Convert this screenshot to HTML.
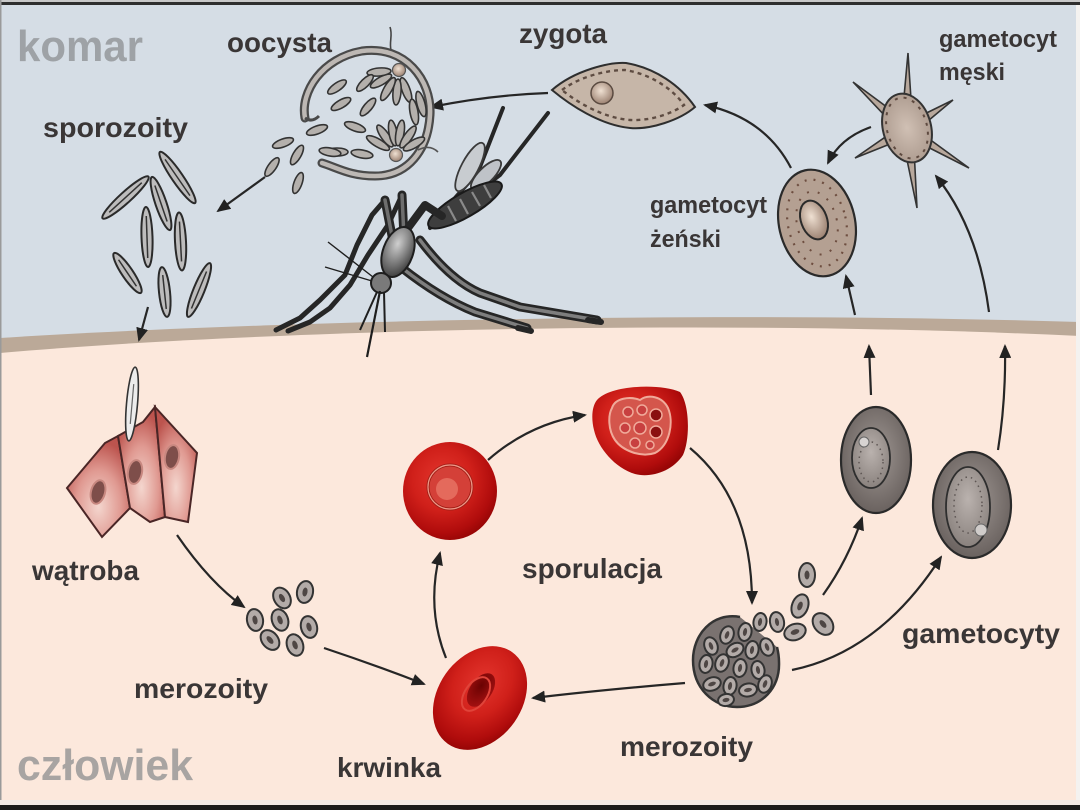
<!DOCTYPE html>
<html><head><meta charset="utf-8"><style>
html,body{margin:0;padding:0;background:#fff}
svg{display:block}
.t{font-family:"Liberation Sans",Arial,sans-serif;font-weight:bold;fill:#3a3636}
.big{font-family:"Liberation Sans",Arial,sans-serif;font-weight:bold}
.ar{fill:none;stroke:#262626;stroke-width:2.2;marker-end:url(#ah)}
.sp{fill:#bdbcbc;stroke:#2a2a2a;stroke-width:2}
.sps{fill:#b4b0ac;stroke:#333;stroke-width:1.6}
.mz{fill:#b3aba8;stroke:#333;stroke-width:2}
.mzc{fill:#4e4644}
.leg{fill:none;stroke:#262626;stroke-linejoin:round;stroke-linecap:round}
</style></head><body>
<svg width="1080" height="810" viewBox="0 0 1080 810" xmlns="http://www.w3.org/2000/svg">
<defs>
 <marker id="ah" markerWidth="14" markerHeight="12" refX="12" refY="6" orient="auto" markerUnits="userSpaceOnUse">
  <path d="M0,0 L14,6 L0,12 z" fill="#222"/>
 </marker>
 <radialGradient id="red" cx="42%" cy="38%" r="64%">
  <stop offset="0" stop-color="#e4362e"/><stop offset="0.5" stop-color="#d0201a"/><stop offset="0.85" stop-color="#b00c0c"/><stop offset="1" stop-color="#980606"/>
 </radialGradient>
 <radialGradient id="dimple" cx="40%" cy="40%" r="60%">
  <stop offset="0" stop-color="#6a0202"/><stop offset="1" stop-color="#a01010"/>
 </radialGradient>
 <radialGradient id="liver" cx="50%" cy="70%" r="65%">
  <stop offset="0" stop-color="#f4d6ce"/><stop offset="0.55" stop-color="#e09a92"/><stop offset="1" stop-color="#bc544e"/>
 </radialGradient>
 <radialGradient id="gcell" cx="50%" cy="45%" r="55%">
  <stop offset="0" stop-color="#a09894"/><stop offset="1" stop-color="#6a625f"/>
 </radialGradient>
 <radialGradient id="ginner" cx="50%" cy="40%" r="60%">
  <stop offset="0" stop-color="#bab2ae"/><stop offset="1" stop-color="#8a827e"/>
 </radialGradient>
 <radialGradient id="nuc" cx="45%" cy="40%" r="60%">
  <stop offset="0" stop-color="#efe0d2"/><stop offset="1" stop-color="#9c8272"/>
 </radialGradient>
 <radialGradient id="tan" cx="50%" cy="50%" r="60%">
  <stop offset="0" stop-color="#d0c0b4"/><stop offset="1" stop-color="#a8968a"/>
 </radialGradient>
 <radialGradient id="thx" cx="40%" cy="35%" r="65%">
  <stop offset="0" stop-color="#cfcfcf"/><stop offset="1" stop-color="#454545"/>
 </radialGradient>
</defs>

<!-- background -->
<rect x="0" y="0" width="1080" height="810" fill="#d5dde5"/>
<path d="M0,338 C250,322 700,310 1080,322 L1080,810 L0,810 Z" fill="#bba998"/>
<path d="M0,353 C250,331 700,318 1080,336 L1080,810 L0,810 Z" fill="#fce8dc"/>

<!-- frame -->
<rect x="0" y="0" width="1080" height="2" fill="#c8c8c8"/>
<rect x="0" y="2" width="1080" height="3" fill="#2e2e2e"/>
<rect x="0" y="0" width="1.5" height="810" fill="#9a9a9a"/>
<rect x="1076" y="5" width="4" height="800" fill="#f4f2f0"/>
<rect x="0" y="800" width="1080" height="5" fill="#f3ebe6"/>
<rect x="0" y="805" width="1080" height="5" fill="#1c1c1c"/>

<!-- big labels -->
<text class="big" x="17" y="61" font-size="44" fill="#9ea2a6" textLength="126" lengthAdjust="spacingAndGlyphs">komar</text>
<text class="big" x="17" y="780" font-size="44" fill="#a8a4a2" textLength="176" lengthAdjust="spacingAndGlyphs">człowiek</text>

<!-- labels -->
<text class="t" x="227" y="52" font-size="28" textLength="105" lengthAdjust="spacingAndGlyphs">oocysta</text>
<text class="t" x="519" y="43" font-size="28" textLength="88" lengthAdjust="spacingAndGlyphs">zygota</text>
<text class="t" x="43" y="137" font-size="28" textLength="145" lengthAdjust="spacingAndGlyphs">sporozoity</text>
<text class="t" x="939" y="47" font-size="24" textLength="118" lengthAdjust="spacingAndGlyphs">gametocyt</text>
<text class="t" x="939" y="80" font-size="24" textLength="66" lengthAdjust="spacingAndGlyphs">męski</text>
<text class="t" x="650" y="213" font-size="24" textLength="117" lengthAdjust="spacingAndGlyphs">gametocyt</text>
<text class="t" x="650" y="247" font-size="24" textLength="71" lengthAdjust="spacingAndGlyphs">żeński</text>
<text class="t" x="32" y="580" font-size="28" textLength="107" lengthAdjust="spacingAndGlyphs">wątroba</text>
<text class="t" x="134" y="698" font-size="28" textLength="134" lengthAdjust="spacingAndGlyphs">merozoity</text>
<text class="t" x="337" y="777" font-size="28" textLength="104" lengthAdjust="spacingAndGlyphs">krwinka</text>
<text class="t" x="522" y="578" font-size="28" textLength="140" lengthAdjust="spacingAndGlyphs">sporulacja</text>
<text class="t" x="620" y="756" font-size="28" textLength="133" lengthAdjust="spacingAndGlyphs">merozoity</text>
<text class="t" x="902" y="643" font-size="28" textLength="158" lengthAdjust="spacingAndGlyphs">gametocyty</text>

<!-- arrows -->
<path class="ar" d="M548,93 Q490,95 431,107"/>
<path class="ar" d="M265,177 L218,211"/>
<path class="ar" d="M148,307 L139,340"/>
<path class="ar" d="M791,168 Q765,118 705,105"/>
<path class="ar" d="M871,127 Q840,138 828,163"/>
<path class="ar" d="M855,315 L846,276"/>
<path class="ar" d="M989,312 Q978,228 936,176"/>
<path class="ar" d="M871,395 L869,346"/>
<path class="ar" d="M998,450 Q1006,400 1005,346"/>
<path class="ar" d="M177,535 Q210,583 244,607"/>
<path class="ar" d="M324,648 Q375,665 424,684"/>
<path class="ar" d="M446,658 Q426,608 440,553"/>
<path class="ar" d="M488,460 Q530,423 585,415"/>
<path class="ar" d="M690,448 Q752,500 752,603"/>
<path class="ar" d="M685,683 Q600,690 533,698"/>
<path class="ar" d="M823,595 Q848,560 862,518"/>
<path class="ar" d="M792,670 Q880,652 941,557"/>

<!-- sporozoite cluster -->
<g transform="translate(125.5,197.5) rotate(-42.3)"><ellipse class="sp" rx="31" ry="5.5"/><line x1="-22" x2="22" stroke="#333" stroke-width="1.5"/></g>
<g transform="translate(177.5,177.5) rotate(55.5)"><ellipse class="sp" rx="31" ry="5.5"/><line x1="-22" x2="22" stroke="#333" stroke-width="1.5"/></g>
<g transform="translate(161,203.5) rotate(71.2)"><ellipse class="sp" rx="28" ry="5.5"/><line x1="-19" x2="19" stroke="#333" stroke-width="1.5"/></g>
<g transform="translate(147,237) rotate(88)"><ellipse class="sp" rx="30" ry="5.5"/><line x1="-21" x2="21" stroke="#333" stroke-width="1.5"/></g>
<g transform="translate(180.5,241.5) rotate(87)"><ellipse class="sp" rx="29" ry="5.5"/><line x1="-20" x2="20" stroke="#333" stroke-width="1.5"/></g>
<g transform="translate(127.5,273) rotate(56)"><ellipse class="sp" rx="24" ry="5.5"/><line x1="-16" x2="16" stroke="#333" stroke-width="1.5"/></g>
<g transform="translate(164.5,292) rotate(84)"><ellipse class="sp" rx="25" ry="5.5"/><line x1="-17" x2="17" stroke="#333" stroke-width="1.5"/></g>
<g transform="translate(199,290) rotate(-67.8)"><ellipse class="sp" rx="29" ry="5.5"/><line x1="-20" x2="20" stroke="#333" stroke-width="1.5"/></g>

<!-- oocyst -->
<path d="M391,50 C389,42 393,35 390,27" fill="none" stroke="#444" stroke-width="1.6"/>
<path d="M305,118 C300,92 322,58 362,51 C405,45 432,80 430,115 C428,150 408,176 375,176 C350,176 338,168 322,163" fill="none" stroke="#4a4a4a" stroke-width="9" stroke-linecap="round"/>
<path d="M305,118 C300,92 322,58 362,51 C405,45 432,80 430,115 C428,150 408,176 375,176 C350,176 338,168 322,163" fill="none" stroke="#bdb8b4" stroke-width="4.5" stroke-linecap="round"/>
<path d="M305,118 Q312,123 319,116" fill="none" stroke="#4a4a4a" stroke-width="3"/>
<path d="M418,150 Q430,144 438,152" fill="none" stroke="#555" stroke-width="1.6"/>
<g class="sps">
 <ellipse cx="406" cy="90" rx="13" ry="4" transform="rotate(70 406 90)"/>
 <ellipse cx="397" cy="92" rx="13" ry="4" transform="rotate(95 397 92)"/>
 <ellipse cx="388" cy="89" rx="13" ry="4" transform="rotate(120 388 89)"/>
 <ellipse cx="381" cy="81" rx="12" ry="4" transform="rotate(150 381 81)"/>
 <ellipse cx="379" cy="72" rx="12" ry="4" transform="rotate(175 379 72)"/>
 <ellipse cx="414" cy="112" rx="13" ry="4" transform="rotate(80 414 112)"/>
 <ellipse cx="421" cy="104" rx="13" ry="4" transform="rotate(75 421 104)"/>
 <ellipse cx="378" cy="143" rx="13" ry="4" transform="rotate(-150 378 143)"/>
 <ellipse cx="385" cy="136" rx="13" ry="4" transform="rotate(-125 385 136)"/>
 <ellipse cx="393" cy="133" rx="13" ry="4" transform="rotate(-100 393 133)"/>
 <ellipse cx="400" cy="133" rx="13" ry="4" transform="rotate(-80 400 133)"/>
 <ellipse cx="408" cy="137" rx="13" ry="4" transform="rotate(-55 408 137)"/>
 <ellipse cx="414" cy="144" rx="12" ry="4" transform="rotate(-30 414 144)"/>
 <ellipse cx="337" cy="87" rx="11" ry="4" transform="rotate(-35 337 87)"/>
 <ellipse cx="341" cy="104" rx="11" ry="4" transform="rotate(-30 341 104)"/>
 <ellipse cx="365" cy="83" rx="11" ry="4" transform="rotate(-45 365 83)"/>
 <ellipse cx="368" cy="107" rx="11" ry="4" transform="rotate(-50 368 107)"/>
 <ellipse cx="355" cy="127" rx="11" ry="4" transform="rotate(20 355 127)"/>
 <ellipse cx="337" cy="152" rx="11" ry="4" transform="rotate(0 337 152)"/>
 <ellipse cx="362" cy="154" rx="11" ry="4" transform="rotate(10 362 154)"/>
 <ellipse cx="317" cy="130" rx="11" ry="4" transform="rotate(-20 317 130)"/>
 <ellipse cx="283" cy="143" rx="11" ry="4" transform="rotate(-20 283 143)"/>
 <ellipse cx="272" cy="167" rx="11" ry="4" transform="rotate(-55 272 167)"/>
 <ellipse cx="297" cy="155" rx="11" ry="4" transform="rotate(-60 297 155)"/>
 <ellipse cx="298" cy="183" rx="11" ry="4" transform="rotate(-70 298 183)"/>
 <ellipse cx="330" cy="152" rx="11" ry="4" transform="rotate(10 330 152)"/>
</g>
<circle cx="399" cy="70" r="6.5" fill="url(#nuc)" stroke="#555" stroke-width="1.2"/>
<circle cx="396" cy="155" r="6.5" fill="url(#nuc)" stroke="#555" stroke-width="1.2"/>

<!-- zygota -->
<path d="M552,90 C575,70 610,62 626,63 C655,68 680,85 695,107 C680,120 650,130 630,128 C600,125 570,105 552,90 Z" fill="#c6b6a8" stroke="#2e2e2e" stroke-width="2"/>
<path d="M562,90 C582,75 610,70 625,70 C650,74 672,88 684,105 C670,115 648,121 630,120 C604,118 578,103 562,90 Z" fill="none" stroke="#5e4c42" stroke-width="2.4" stroke-dasharray="4 4"/>
<circle cx="602" cy="93" r="11" fill="url(#nuc)" stroke="#5a4a40" stroke-width="1.5"/>

<!-- male gametocyte -->
<g fill="#b8a89c" stroke="#333" stroke-width="1.6">
 <polygon points="901,130 908,53 913,130"/>
 <polygon points="911,125 853,82 903,135"/>
 <polygon points="910,136 953,100 904,124"/>
 <polygon points="904,124 855,158 910,136"/>
 <polygon points="904,135 969,168 910,125"/>
 <polygon points="901,131 917,208 913,129"/>
</g>
<ellipse cx="907" cy="128" rx="24" ry="35" transform="rotate(-15 907 128)" fill="url(#tan)" stroke="#333" stroke-width="2"/>
<ellipse cx="907" cy="128" rx="20" ry="31" transform="rotate(-15 907 128)" fill="none" stroke="#5e4a40" stroke-width="2" stroke-dasharray="3 6"/>

<!-- female gametocyte -->
<ellipse cx="817" cy="223" rx="38" ry="54" transform="rotate(-13 817 223)" fill="#b4a092" stroke="#2a2a2a" stroke-width="2.2"/>
<ellipse cx="817" cy="223" rx="29" ry="44" transform="rotate(-13 817 223)" fill="none" stroke="#6e4e40" stroke-width="2.2" stroke-dasharray="2 7"/>
<ellipse cx="817" cy="223" rx="20" ry="32" transform="rotate(-13 817 223)" fill="none" stroke="#6e4e40" stroke-width="2" stroke-dasharray="2 9"/>
<ellipse cx="814" cy="220" rx="13" ry="20" transform="rotate(-20 814 220)" fill="url(#nuc)" stroke="#2a2a2a" stroke-width="2"/>

<!-- mosquito -->
<path class="leg" d="M402,268 Q440,298 475,312 L527,328" stroke-width="9"/>
<path d="M402,268 Q440,298 475,312 L527,328" fill="none" stroke="#7e7e7e" stroke-width="3.5" stroke-linecap="round"/>
<path class="leg" d="M420,240 Q450,280 480,293 L520,307 L597,320" stroke-width="9"/>
<path d="M420,240 Q450,280 480,293 L520,307 L597,320" fill="none" stroke="#7e7e7e" stroke-width="3.5" stroke-linecap="round"/>
<path class="leg" d="M518,328 L531,331" stroke-width="6"/>
<path class="leg" d="M588,320 L601,322" stroke-width="6"/>
<path class="leg" d="M385,200 L372,215 L357,245 L345,275 L320,300 L300,318 L276,330" stroke-width="5"/>
<path class="leg" d="M402,195 L388,225 L368,255 L350,285 L330,308 L310,322 L288,331" stroke-width="5"/>
<path class="leg" d="M394,246 L385,200" stroke-width="9"/>
<path d="M394,246 L385,200" stroke="#6e6e6e" stroke-width="3.5" stroke-linecap="round"/>
<path class="leg" d="M404,238 L402,195" stroke-width="9"/>
<path d="M404,238 L402,195" stroke="#6e6e6e" stroke-width="3.5" stroke-linecap="round"/>
<path class="leg" d="M440,215 L478,172 L503,108" stroke-width="4"/>
<path class="leg" d="M430,228 L500,175 L548,113" stroke-width="4"/>
<ellipse cx="470" cy="167" rx="27" ry="8.5" transform="rotate(-62 470 167)" fill="#c8ccd0" stroke="#3a3a3a" stroke-width="1.8"/>
<ellipse cx="486" cy="175" rx="20" ry="7.5" transform="rotate(-45 486 175)" fill="#bfc3c8" stroke="#3a3a3a" stroke-width="1.8"/>
<ellipse cx="465" cy="205" rx="42" ry="12" transform="rotate(-30 465 205)" fill="#3e3e3e" stroke="#1a1a1a" stroke-width="2"/>
<g stroke="#8a8a8a" stroke-width="2.2">
 <line x1="448" y1="206" x2="456" y2="221"/><line x1="460" y1="199" x2="468" y2="214"/><line x1="472" y1="192" x2="480" y2="206"/><line x1="484" y1="185" x2="491" y2="198"/>
</g>
<path class="leg" d="M405,232 L425,205 L442,216" stroke-width="8"/>
<ellipse cx="398" cy="252" rx="15" ry="26" transform="rotate(20 398 252)" fill="url(#thx)" stroke="#1e1e1e" stroke-width="2"/>
<circle cx="381" cy="283" r="10" fill="#7a7a7a" stroke="#1e1e1e" stroke-width="2"/>
<g stroke="#1e1e1e" fill="none">
 <line x1="380" y1="291" x2="367" y2="357" stroke-width="2.2"/>
 <line x1="377" y1="292" x2="360" y2="330" stroke-width="2"/>
 <line x1="384" y1="292" x2="385" y2="332" stroke-width="2"/>
 <line x1="373" y1="277" x2="328" y2="242" stroke-width="1.4"/>
 <line x1="372" y1="281" x2="325" y2="267" stroke-width="1.4"/>
</g>

<!-- liver -->
<path d="M67,488 L105,443 L118,436 L130,508 L102,537 Z" fill="url(#liver)" stroke="#4a2626" stroke-width="2"/>
<path d="M118,436 L143,422 L155,407 L165,517 L150,522 L130,508 Z" fill="url(#liver)" stroke="#4a2626" stroke-width="2"/>
<path d="M155,407 L197,453 L188,522 L165,517 Z" fill="url(#liver)" stroke="#4a2626" stroke-width="2"/>
<ellipse cx="98" cy="492" rx="7" ry="12" transform="rotate(15 98 492)" fill="#7e4e4a" stroke="#c88880" stroke-width="2"/>
<ellipse cx="135" cy="472" rx="7" ry="12" transform="rotate(10 135 472)" fill="#7e4e4a" stroke="#c88880" stroke-width="2"/>
<ellipse cx="172" cy="457" rx="7" ry="12" transform="rotate(10 172 457)" fill="#7e4e4a" stroke="#c88880" stroke-width="2"/>
<g transform="translate(132,404) rotate(95)"><ellipse rx="37" ry="5.5" fill="#ececec" stroke="#333" stroke-width="1.6"/><line x1="-20" x2="20" stroke="#666" stroke-width="1.2"/></g>

<!-- left merozoites -->
<g>
 <g transform="translate(305,592) rotate(10)"><ellipse class="mz" rx="8" ry="11"/><ellipse class="mzc" rx="2.5" ry="4.5"/></g>
 <g transform="translate(282,598) rotate(-30)"><ellipse class="mz" rx="8" ry="11"/><ellipse class="mzc" rx="2.5" ry="4.5"/></g>
 <g transform="translate(255,620) rotate(-10)"><ellipse class="mz" rx="8" ry="11"/><ellipse class="mzc" rx="2.5" ry="4.5"/></g>
 <g transform="translate(280,620) rotate(-20)"><ellipse class="mz" rx="8" ry="11"/><ellipse class="mzc" rx="2.5" ry="4.5"/></g>
 <g transform="translate(309,627) rotate(-15)"><ellipse class="mz" rx="8" ry="11"/><ellipse class="mzc" rx="2.5" ry="4.5"/></g>
 <g transform="translate(270,640) rotate(-40)"><ellipse class="mz" rx="8" ry="11"/><ellipse class="mzc" rx="2.5" ry="4.5"/></g>
 <g transform="translate(295,645) rotate(-20)"><ellipse class="mz" rx="8" ry="11"/><ellipse class="mzc" rx="2.5" ry="4.5"/></g>
</g>

<!-- red cells -->
<ellipse cx="450" cy="491" rx="47" ry="49" fill="url(#red)"/>
<circle cx="450" cy="487" r="22" fill="#d44038" stroke="#a21e16" stroke-width="3"/>
<circle cx="450" cy="487" r="22" fill="none" stroke="#ee9888" stroke-width="1.2"/>
<circle cx="447" cy="489" r="11" fill="#e46a5c"/>

<path d="M597,400 C610,385 660,383 680,392 C690,405 690,440 683,455 C672,472 650,478 635,474 C615,468 598,448 594,430 C591,418 592,406 597,400 Z" fill="url(#red)"/>
<path d="M612,408 C615,398 630,396 640,400 C648,394 662,396 668,408 C674,422 670,445 655,453 C640,458 622,450 615,440 C608,430 608,415 612,408 Z" fill="#d4564c" stroke="#f0aa9a" stroke-width="2"/>
<g stroke="#f0aa9a" stroke-width="1.5">
 <circle cx="628" cy="412" r="5" fill="#c84040"/><circle cx="642" cy="410" r="5" fill="#c84040"/>
 <circle cx="656" cy="415" r="6" fill="#8a1010"/><circle cx="625" cy="428" r="5" fill="#c84040"/>
 <circle cx="640" cy="428" r="6" fill="#c84040"/><circle cx="656" cy="432" r="6" fill="#8a1010"/>
 <circle cx="635" cy="443" r="5" fill="#c84040"/><circle cx="650" cy="445" r="4" fill="#c84040"/>
</g>

<ellipse cx="480" cy="698" rx="42" ry="56" transform="rotate(35 480 698)" fill="url(#red)"/>
<ellipse cx="481" cy="690" rx="11" ry="19" transform="rotate(35 481 690)" fill="url(#dimple)"/>
<ellipse cx="476" cy="694" rx="11" ry="19" transform="rotate(35 476 694)" fill="none" stroke="#e0443a" stroke-width="2"/>

<!-- burst schizont -->
<path d="M740,617 C712,612 693,635 693,660 C693,688 713,707 737,707 C762,707 780,688 779,662 C779,656 778,651 777,647" fill="#7a7270" stroke="#333" stroke-width="2.5"/>
<g>
 <g transform="translate(727,635) rotate(20)"><ellipse class="mz" rx="6.5" ry="9"/><ellipse class="mzc" rx="2" ry="4"/></g>
 <g transform="translate(745,632) rotate(10)"><ellipse class="mz" rx="6.5" ry="9"/><ellipse class="mzc" rx="2" ry="4"/></g>
 <g transform="translate(711,646) rotate(-20)"><ellipse class="mz" rx="6.5" ry="9"/><ellipse class="mzc" rx="2" ry="4"/></g>
 <g transform="translate(735,650) rotate(60)"><ellipse class="mz" rx="6.5" ry="9"/><ellipse class="mzc" rx="2" ry="4"/></g>
 <g transform="translate(752,650) rotate(10)"><ellipse class="mz" rx="6.5" ry="9"/><ellipse class="mzc" rx="2" ry="4"/></g>
 <g transform="translate(767,647) rotate(-20)"><ellipse class="mz" rx="6.5" ry="9"/><ellipse class="mzc" rx="2" ry="4"/></g>
 <g transform="translate(706,664) rotate(10)"><ellipse class="mz" rx="6.5" ry="9"/><ellipse class="mzc" rx="2" ry="4"/></g>
 <g transform="translate(722,663) rotate(20)"><ellipse class="mz" rx="6.5" ry="9"/><ellipse class="mzc" rx="2" ry="4"/></g>
 <g transform="translate(740,668) rotate(10)"><ellipse class="mz" rx="6.5" ry="9"/><ellipse class="mzc" rx="2" ry="4"/></g>
 <g transform="translate(758,670) rotate(-10)"><ellipse class="mz" rx="6.5" ry="9"/><ellipse class="mzc" rx="2" ry="4"/></g>
 <g transform="translate(712,684) rotate(70)"><ellipse class="mz" rx="6.5" ry="9"/><ellipse class="mzc" rx="2" ry="4"/></g>
 <g transform="translate(730,686) rotate(10)"><ellipse class="mz" rx="6.5" ry="9"/><ellipse class="mzc" rx="2" ry="4"/></g>
 <g transform="translate(748,690) rotate(80)"><ellipse class="mz" rx="6.5" ry="9"/><ellipse class="mzc" rx="2" ry="4"/></g>
 <g transform="translate(765,684) rotate(20)"><ellipse class="mz" rx="6.5" ry="9"/><ellipse class="mzc" rx="2" ry="4"/></g>
 <g transform="translate(726,700) rotate(80)"><ellipse class="mz" rx="6" ry="8"/><ellipse class="mzc" rx="2" ry="3.5"/></g>
 <g transform="translate(760,622) rotate(10)"><ellipse class="mz" rx="6.5" ry="9"/><ellipse class="mzc" rx="2" ry="4"/></g>
 <g transform="translate(777,622) rotate(-10)"><ellipse class="mz" rx="7" ry="10"/><ellipse class="mzc" rx="2" ry="4"/></g>
 <g transform="translate(795,632) rotate(70)"><ellipse class="mz" rx="8" ry="11"/><ellipse class="mzc" rx="2.5" ry="4.5"/></g>
 <g transform="translate(800,606) rotate(20)"><ellipse class="mz" rx="8" ry="12"/><ellipse class="mzc" rx="2.5" ry="4.5"/></g>
 <g transform="translate(807,575) rotate(0)"><ellipse class="mz" rx="8" ry="12"/><ellipse class="mzc" rx="2.5" ry="4.5"/></g>
 <g transform="translate(823,624) rotate(-40)"><ellipse class="mz" rx="9" ry="12"/><ellipse class="mzc" rx="2.5" ry="4.5"/></g>
</g>

<!-- gametocytes in blood -->
<ellipse cx="876" cy="460" rx="35" ry="53" fill="url(#gcell)" stroke="#2a2a2a" stroke-width="2.2"/>
<ellipse cx="871" cy="458" rx="19" ry="30" fill="url(#ginner)" stroke="#2e2e2e" stroke-width="1.8"/>
<ellipse cx="871" cy="462" rx="12" ry="20" fill="none" stroke="#5e5654" stroke-width="1.5" stroke-dasharray="1.5 4"/>
<circle cx="864" cy="442" r="5" fill="#d8d4d2" stroke="#666" stroke-width="1"/>

<ellipse cx="972" cy="505" rx="39" ry="53" fill="url(#gcell)" stroke="#2a2a2a" stroke-width="2.2"/>
<ellipse cx="968" cy="507" rx="22" ry="40" fill="url(#ginner)" stroke="#2e2e2e" stroke-width="1.8"/>
<ellipse cx="968" cy="505" rx="14" ry="28" fill="none" stroke="#5e5654" stroke-width="1.5" stroke-dasharray="1.5 4"/>
<circle cx="981" cy="530" r="6" fill="#d0ccca" stroke="#666" stroke-width="1"/>
</svg>
</body></html>
